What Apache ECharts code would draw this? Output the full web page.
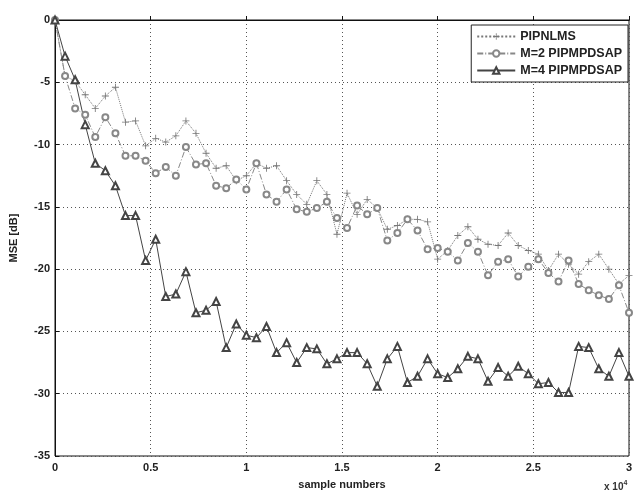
<!DOCTYPE html>
<html>
<head>
<meta charset="utf-8">
<script src="https://cdn.jsdelivr.net/npm/echarts@6/dist/echarts.min.js"></script>
<style>
  html, body { margin: 0; padding: 0; background: #fff; }
  #chart { width: 637px; height: 495px; }
</style>
</head>
<body>
<div id="chart"></div>
<script>
// MSE curves, one value per marker (dB)
const mseNlms = [0, -4.5, -4.9, -6.0, -7.1, -6.1, -5.4, -8.2, -8.1, -10.1, -9.5, -9.8, -9.3, -8.1, -9.1,
  -10.7, -11.9, -11.7, -12.9, -12.5, -11.5, -11.9, -11.7, -12.9, -14.0, -14.8, -12.9, -14.0, -17.2,
  -13.9, -15.6, -14.4, -15.1, -16.8, -16.5, -16.0, -16.0, -16.2, -19.2, -18.5, -17.3, -16.6, -17.6,
  -18.0, -18.1, -17.1, -18.1, -18.5, -18.8, -20.1, -18.8, -19.6, -20.4, -19.4, -18.8, -20.0, -21.2, -20.5];

const mseM2 = [0, -4.5, -7.1, -7.6, -9.4, -7.8, -9.1, -10.9, -10.9, -11.3, -12.3, -11.8, -12.5, -10.2, -11.6,
  -11.5, -13.3, -13.5, -12.8, -13.6, -11.5, -14.0, -14.6, -13.6, -15.2, -15.4, -15.1, -14.6, -15.9,
  -16.7, -14.9, -15.6, -15.1, -17.7, -17.1, -16.0, -16.9, -18.4, -18.3, -18.6, -19.3, -17.9, -18.6,
  -20.5, -19.4, -19.2, -20.6, -19.8, -19.2, -20.3, -21.0, -19.3, -21.2, -21.7, -22.1, -22.4, -21.3, -23.5];

const mseM4 = [0, -2.9, -4.8, -8.4, -11.5, -12.1, -13.3, -15.7, -15.7, -19.3, -17.6, -22.2, -22.0, -20.2, -23.5,
  -23.3, -22.6, -26.3, -24.4, -25.3, -25.5, -24.6, -26.7, -25.9, -27.5, -26.3, -26.4, -27.6, -27.2,
  -26.7, -26.7, -27.6, -29.4, -27.2, -26.2, -29.1, -28.6, -27.2, -28.4, -28.7, -28.0, -27.0, -27.2,
  -29.0, -27.9, -28.6, -27.8, -28.4, -29.2, -29.1, -29.9, -29.9, -26.2, -26.3, -28.0, -28.6, -26.7, -28.6];

const seriesNames = ['PIPNLMS', 'M=2 PIPMPDSAP', 'M=4 PIPMPDSAP'];
const lastSample = 30000;

// markers are evenly spaced over the sample range
function withSamples(values) {
  const step = lastSample / (values.length - 1);
  return values.map((v, i) => [i * step, v]);
}

const font = '"Liberation Sans", Arial, sans-serif';
const plusPath = 'path://M4.4,0H5.6V4.4H10V5.6H5.6V10H4.4V5.6H0V4.4H4.4Z';

const chart = echarts.init(document.getElementById('chart'));

const option = {
  backgroundColor: '#fff',
  animation: false,
  grid: {
    left: 52,
    right: 8,
    top: 20,
    bottom: 34,
    show: true,
    borderColor: '#111',
    borderWidth: 1
  },
  legend: {
    orient: 'vertical',
    right: 9,
    top: 25,
    itemWidth: 38,
    itemHeight: 8,
    itemGap: 4,
    padding: [5, 6, 5, 5],
    borderColor: '#222',
    borderWidth: 1,
    backgroundColor: '#fff',
    textStyle: {
      fontFamily: font,
      fontSize: 12.5,
      fontWeight: 'bold',
      color: '#222'
    },
    data: seriesNames
  },
  xAxis: {
    type: 'value',
    min: 0,
    max: lastSample,
    interval: 5000,
    name: 'sample numbers',
    nameLocation: 'middle',
    nameGap: 23,
    nameTextStyle: { fontFamily: font, fontSize: 11, fontWeight: 'bold', color: '#222' },
    axisLine: { lineStyle: { color: '#111' } },
    axisTick: { inside: true, length: 4, lineStyle: { color: '#111' } },
    axisLabel: {
      fontFamily: font,
      fontSize: 11,
      fontWeight: 'bold',
      color: '#222',
      margin: 6,
      formatter: v => String(v / 10000)
    },
    splitLine: { show: true, lineStyle: { color: '#555', type: [1, 3], width: 1 } }
  },
  yAxis: {
    type: 'value',
    min: -35,
    max: 0,
    interval: 5,
    name: 'MSE [dB]',
    nameLocation: 'middle',
    nameGap: 36,
    nameTextStyle: { fontFamily: font, fontSize: 11, fontWeight: 'bold', color: '#222' },
    axisLine: { show: true, lineStyle: { color: '#111' } },
    axisTick: { show: true, inside: true, length: 4, lineStyle: { color: '#111' } },
    axisLabel: {
      fontFamily: font,
      fontSize: 11,
      fontWeight: 'bold',
      color: '#222',
      margin: 5,
      formatter: v => String(v).replace('\u2212', '-')
    },
    splitLine: { show: true, lineStyle: { color: '#555', type: [1, 3], width: 1 } }
  },
  graphic: [{
    type: 'text',
    left: 604,
    top: 480,
    style: {
      text: '{b|x 10}{s|4}',
      rich: {
        b: { fontFamily: font, fontSize: 10, fontWeight: 'bold', fill: '#333' },
        s: { fontFamily: font, fontSize: 7, fontWeight: 'bold', fill: '#333', verticalAlign: 'top', padding: [0, 0, 8, 0] }
      }
    }
  }],
  series: [
    {
      name: seriesNames[0],
      type: 'line',
      data: withSamples(mseNlms),
      symbol: plusPath,
      symbolSize: 7,
      color: '#777',
      lineStyle: { color: '#777', width: 1, type: 'dotted' },
      itemStyle: { color: '#777' }
    },
    {
      name: seriesNames[1],
      type: 'line',
      data: withSamples(mseM2),
      symbol: 'emptyCircle',
      symbolSize: 6,
      color: '#888',
      lineStyle: { color: '#888', width: 1, type: [6, 2, 1, 2] },
      itemStyle: { color: '#888', borderColor: '#888', borderWidth: 1 }
    },
    {
      name: seriesNames[2],
      type: 'line',
      data: withSamples(mseM4),
      symbol: 'emptyTriangle',
      symbolSize: 7,
      color: '#444',
      lineStyle: { color: '#444', width: 1 },
      itemStyle: { color: '#444', borderColor: '#444', borderWidth: 1 }
    }
  ]
};

chart.setOption(option);
</script>
</body>
</html>
